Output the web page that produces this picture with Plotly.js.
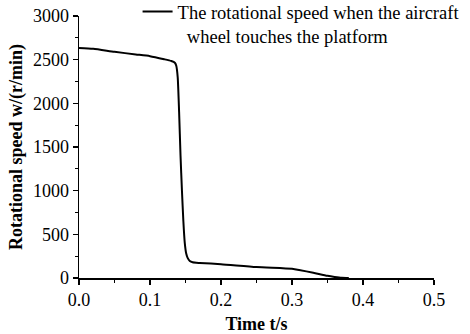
<!DOCTYPE html>
<html>
<head>
<meta charset="utf-8">
<script src="https://cdn.plot.ly/plotly-3.0.1.min.js"></script>
<style>html,body{margin:0;padding:0;background:#fff;}#chart{width:470px;height:334px;}</style>
</head>
<body>
<div id="chart"></div>
<script>
// Time (s)
var timeS = [0, 0.02, 0.05, 0.08, 0.1, 0.12, 0.13, 0.135, 0.137, 0.139, 0.141, 0.143, 0.145, 0.147, 0.149, 0.151, 0.153, 0.156, 0.16, 0.17, 0.2, 0.25, 0.3, 0.31, 0.33, 0.35, 0.36, 0.37, 0.38];
// Rotational speed (r/min)
var speed = [2635, 2625, 2590, 2560, 2540, 2505, 2485, 2465, 2430, 2300, 1900, 1400, 1000, 650, 400, 280, 230, 195, 180, 172, 158, 125, 105, 92, 60, 25, 12, 2, 0];
var seriesName = "The rotational speed when the aircraft<br>&nbsp;&nbsp;wheel touches the platform";
var xTickVals = [0, 0.1, 0.2, 0.3, 0.4, 0.5];
var xTickText = ["0.0", "0.1", "0.2", "0.3", "0.4", "0.5"];
var yTickVals = [0, 500, 1000, 1500, 2000, 2500, 3000];

var font = "Liberation Serif, Times New Roman, serif";
var trace = {
  x: timeS, y: speed, type: "scatter", mode: "lines",
  line: {color: "#000", width: 2, shape: "spline", smoothing: 0.6},
  name: seriesName
};
var layout = {
  width: 470, height: 334,
  margin: {l: 79, r: 36, t: 16, b: 56, autoexpand: false},
  paper_bgcolor: "#fff", plot_bgcolor: "#fff",
  font: {family: font, color: "#000", size: 18},
  showlegend: true,
  legend: {x: 0.165, y: 1.088, xanchor: "left", yanchor: "top", valign: "top",
           bgcolor: "rgba(0,0,0,0)", borderwidth: 0, itemwidth: 30,
           font: {family: font, size: 18.5, color: "#000"}},
  xaxis: {
    range: [0, 0.5], tickvals: xTickVals, ticktext: xTickText,
    showline: true, linecolor: "#000", linewidth: 1.5, mirror: false,
    ticks: "outside", ticklen: 5, tickwidth: 1.5, tickcolor: "#000",
    minor: {dtick: 0.05, ticks: "outside", ticklen: 3, tickwidth: 1.2, tickcolor: "#000"},
    showgrid: false, zeroline: false,
    tickfont: {family: font, size: 18},
    title: {text: "<b>Time t/s</b>", font: {family: font, size: 18}, standoff: 10}
  },
  yaxis: {
    range: [0, 3000], tickvals: yTickVals,
    showline: true, linecolor: "#000", linewidth: 1.5, mirror: false,
    ticks: "outside", ticklen: 5, tickwidth: 1.5, tickcolor: "#000",
    minor: {dtick: 250, ticks: "outside", ticklen: 3, tickwidth: 1.2, tickcolor: "#000"},
    showgrid: false, zeroline: false,
    tickfont: {family: font, size: 18},
    title: {text: "<b>Rotational speed w/(r/min)</b>", font: {family: font, size: 18}, standoff: 5}
  }
};
Plotly.newPlot("chart", [trace], layout, {displayModeBar: false, staticPlot: true});
</script>
</body>
</html>
